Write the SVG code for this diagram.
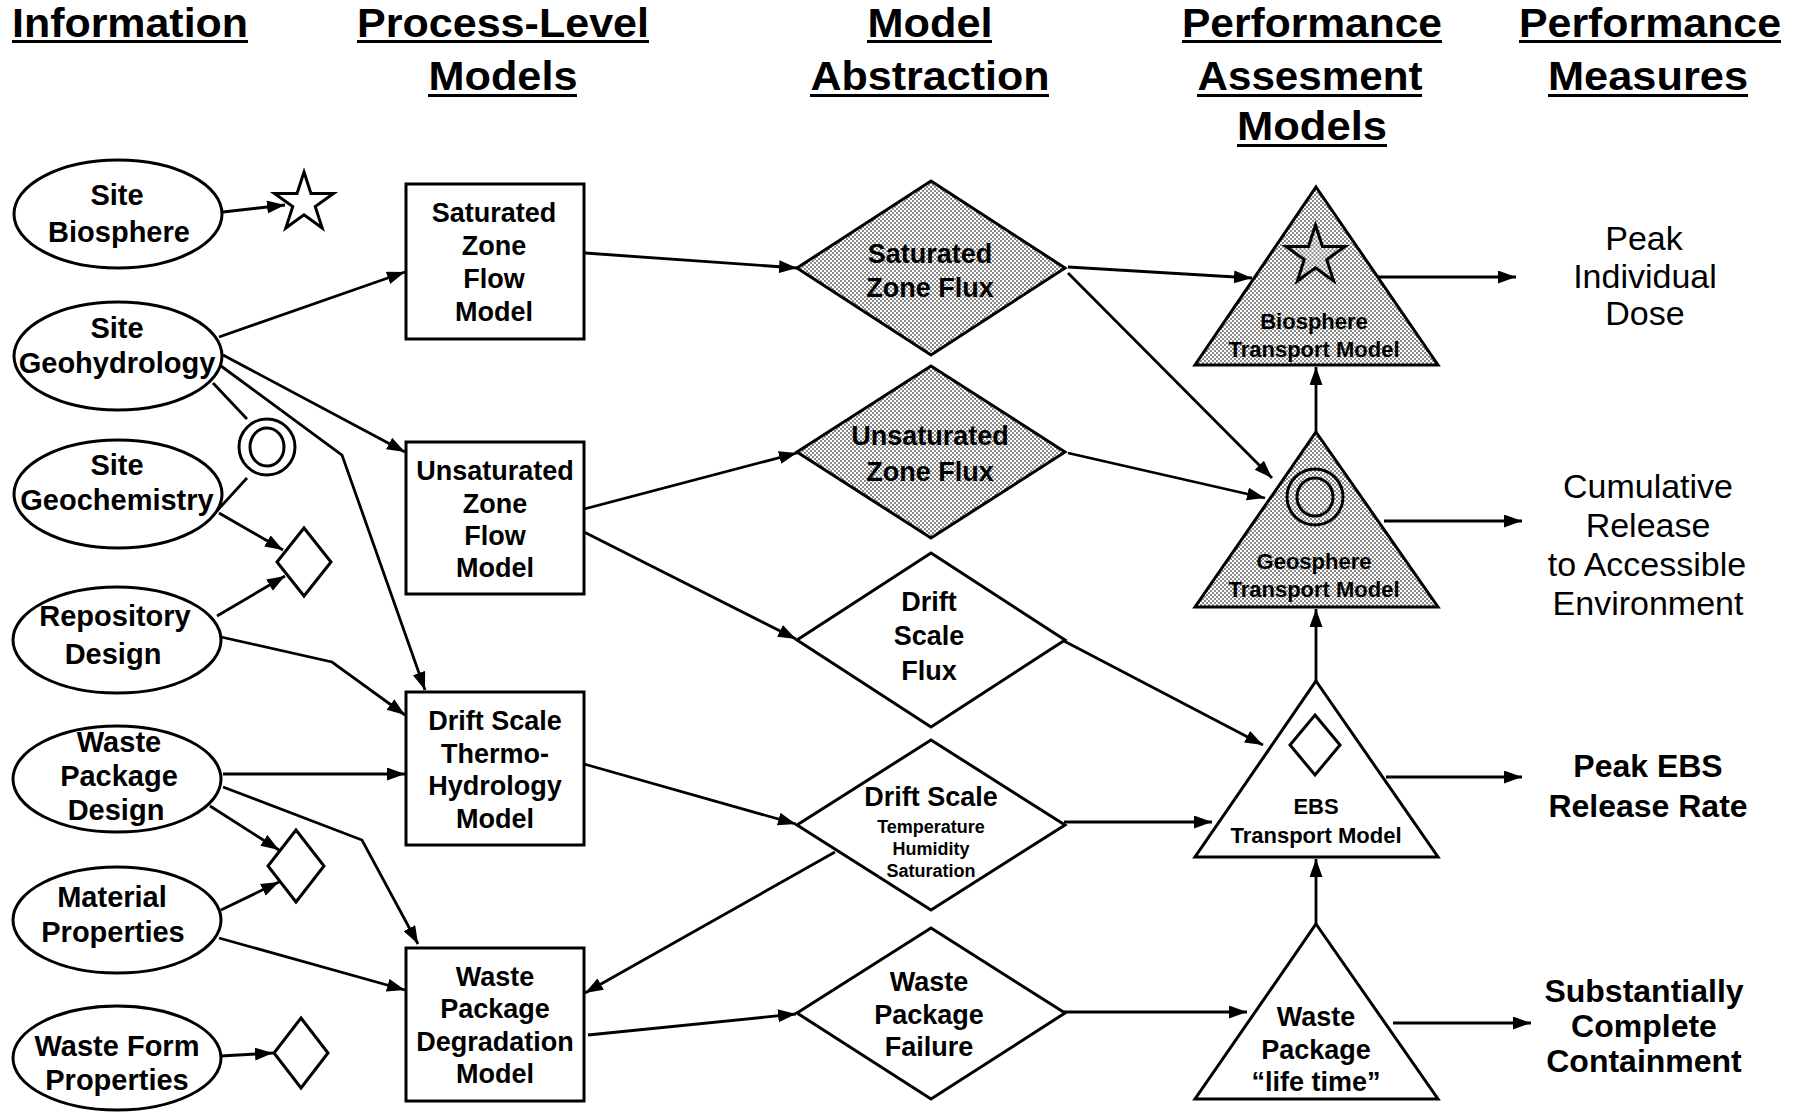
<svg xmlns="http://www.w3.org/2000/svg" width="1801" height="1115" viewBox="0 0 1801 1115">
<defs>
<style>
text{font-family:"Liberation Sans",Arial,Helvetica,sans-serif;fill:#000;text-anchor:middle}
.h{font-size:40px;font-weight:bold}
.e{font-size:29px;font-weight:bold}
.b{font-size:27px;font-weight:bold}
.s{font-size:18px;font-weight:bold}
.t{font-size:22px;font-weight:bold}
.m{font-size:34px}
.mb{font-size:32px;font-weight:bold}
.shape{fill:#fff;stroke:#000;stroke-width:3;stroke-linejoin:miter}
.gray{fill:url(#dots);stroke:#000;stroke-width:3}
.ul{fill:#000}
#connectors path,#connectors line,#connectors polyline{fill:none;stroke:#000;stroke-width:2.8}
.a{marker-end:url(#arr)}
</style>
<pattern id="dots" width="4" height="4" patternUnits="userSpaceOnUse">
<rect width="4" height="4" fill="#fff"/>
<rect width="2" height="2" fill="#8a8a8a"/>
<rect x="2" y="2" width="2" height="2" fill="#8a8a8a"/>
</pattern>
<marker id="arr" markerUnits="userSpaceOnUse" markerWidth="20" markerHeight="14" refX="18" refY="6.5" orient="auto">
<path d="M0,0 L18,6.5 L0,13 z" fill="#000"/>
</marker>
<polygon id="star" points="0,-31 6.96,-9.58 29.48,-9.58 11.26,3.66 18.22,25.08 0,11.84 -18.22,25.08 -11.26,3.66 -29.48,-9.58 -6.96,-9.58"/>
</defs>
<rect width="1801" height="1115" fill="#fff"/>

<g id="headers">
<text class="h" x="130" y="37" textLength="236" lengthAdjust="spacingAndGlyphs">Information</text>
<rect class="ul" x="12" y="40" width="236" height="3"/>
<text class="h" x="503" y="37" textLength="292" lengthAdjust="spacingAndGlyphs">Process-Level</text>
<rect class="ul" x="357" y="40" width="292" height="3"/>
<text class="h" x="503" y="90" textLength="149" lengthAdjust="spacingAndGlyphs">Models</text>
<rect class="ul" x="428" y="94" width="149" height="3"/>
<text class="h" x="930" y="37" textLength="125" lengthAdjust="spacingAndGlyphs">Model</text>
<rect class="ul" x="867" y="40" width="125" height="3"/>
<text class="h" x="930" y="90" textLength="239" lengthAdjust="spacingAndGlyphs">Abstraction</text>
<rect class="ul" x="810" y="94" width="239" height="3"/>
<text class="h" x="1312" y="37" textLength="260" lengthAdjust="spacingAndGlyphs">Performance</text>
<rect class="ul" x="1182" y="40" width="260" height="3"/>
<text class="h" x="1310" y="90" textLength="225" lengthAdjust="spacingAndGlyphs">Assesment</text>
<rect class="ul" x="1197" y="94" width="225" height="3"/>
<text class="h" x="1312" y="140" textLength="150" lengthAdjust="spacingAndGlyphs">Models</text>
<rect class="ul" x="1237" y="144" width="150" height="3"/>
<text class="h" x="1650" y="37" textLength="262" lengthAdjust="spacingAndGlyphs">Performance</text>
<rect class="ul" x="1519" y="40" width="262" height="3"/>
<text class="h" x="1648" y="90" textLength="200" lengthAdjust="spacingAndGlyphs">Measures</text>
<rect class="ul" x="1548" y="94" width="200" height="3"/>
</g>

<g id="connectors">
<line class="a" x1="223" y1="212" x2="285" y2="205"/>
<line class="a" x1="219" y1="337" x2="405" y2="272"/>
<line class="a" x1="223" y1="355" x2="405" y2="452"/>
<polyline class="a" points="221,366 342,455 425,690"/>
<line x1="213" y1="383" x2="247" y2="419"/>
<line x1="247" y1="478" x2="215" y2="513"/>
<line class="a" x1="219" y1="513" x2="283" y2="550"/>
<line class="a" x1="217" y1="616" x2="285" y2="576"/>
<polyline class="a" points="221,637 332,662 405,715"/>
<line class="a" x1="223" y1="774" x2="405" y2="774"/>
<line class="a" x1="210" y1="806" x2="279" y2="850"/>
<polyline class="a" points="223,787 362,840 418,944"/>
<line class="a" x1="221" y1="910" x2="279" y2="882"/>
<line class="a" x1="219" y1="938" x2="405" y2="990"/>
<line class="a" x1="221" y1="1056" x2="273" y2="1053"/>
<line class="a" x1="585" y1="253" x2="797" y2="268"/>
<line class="a" x1="584" y1="509" x2="797" y2="453"/>
<line class="a" x1="584" y1="532" x2="796" y2="639"/>
<line class="a" x1="584" y1="764" x2="796" y2="824"/>
<line class="a" x1="835" y1="852" x2="585" y2="993"/>
<line class="a" x1="588" y1="1035" x2="796" y2="1014"/>
<line class="a" x1="1068" y1="267" x2="1252" y2="278"/>
<line class="a" x1="1068" y1="273" x2="1272" y2="478"/>
<line class="a" x1="1068" y1="453" x2="1265" y2="498"/>
<line class="a" x1="1064" y1="641" x2="1263" y2="745"/>
<line class="a" x1="1064" y1="822" x2="1212" y2="822"/>
<line class="a" x1="1063" y1="1012" x2="1247" y2="1012"/>
<line class="a" x1="1316" y1="432" x2="1316" y2="367"/>
<line class="a" x1="1316" y1="681" x2="1316" y2="609"/>
<line class="a" x1="1316" y1="924" x2="1316" y2="859"/>
<line class="a" x1="1376" y1="277" x2="1516" y2="277"/>
<line class="a" x1="1384" y1="521" x2="1522" y2="521"/>
<line class="a" x1="1386" y1="777" x2="1522" y2="777"/>
<line class="a" x1="1393" y1="1023" x2="1531" y2="1023"/>
</g>

<g id="site-biosphere">
<ellipse class="shape" cx="118" cy="214" rx="104" ry="54"/>
<text class="e" x="117" y="205">Site</text>
<text class="e" x="119" y="242">Biosphere</text>
</g>
<g id="site-geohydrology">
<ellipse class="shape" cx="118" cy="356" rx="104" ry="54"/>
<text class="e" x="117" y="338">Site</text>
<text class="e" x="117" y="373">Geohydrology</text>
</g>
<g id="site-geochemistry">
<ellipse class="shape" cx="118" cy="494" rx="104" ry="54"/>
<text class="e" x="117" y="475">Site</text>
<text class="e" x="117" y="510">Geochemistry</text>
</g>
<g id="repository-design">
<ellipse class="shape" cx="117" cy="640" rx="104" ry="53"/>
<text class="e" x="115" y="626">Repository</text>
<text class="e" x="113" y="664">Design</text>
</g>
<g id="waste-package-design">
<ellipse class="shape" cx="117" cy="779" rx="104" ry="53"/>
<text class="e" x="119" y="752">Waste</text>
<text class="e" x="119" y="786">Package</text>
<text class="e" x="116" y="820">Design</text>
</g>
<g id="material-properties">
<ellipse class="shape" cx="117" cy="920" rx="104" ry="53"/>
<text class="e" x="112" y="907">Material</text>
<text class="e" x="113" y="942">Properties</text>
</g>
<g id="waste-form-properties">
<ellipse class="shape" cx="117" cy="1058" rx="104" ry="52"/>
<text class="e" x="117" y="1056">Waste Form</text>
<text class="e" x="117" y="1090">Properties</text>
</g>

<g id="sym-star">
<use href="#star" class="shape" transform="translate(304,203)"/>
</g>
<g id="sym-circle">
<ellipse class="shape" cx="267" cy="447" rx="28" ry="28"/>
<ellipse class="shape" cx="267" cy="447" rx="17" ry="19"/>
</g>
<g id="sym-diamond-1">
<polygon class="shape" points="304,528 331,562 304,596 277,562"/>
</g>
<g id="sym-diamond-2">
<polygon class="shape" points="296,830 324,866 296,902 268,866"/>
</g>
<g id="sym-diamond-3">
<polygon class="shape" points="301,1018 328,1053 301,1088 274,1053"/>
</g>

<g id="saturated-zone-flow-model">
<rect class="shape" x="406" y="184" width="178" height="155"/>
<text class="b" x="494" y="222">Saturated</text>
<text class="b" x="494" y="255">Zone</text>
<text class="b" x="494" y="288">Flow</text>
<text class="b" x="494" y="321">Model</text>
</g>
<g id="unsaturated-zone-flow-model">
<rect class="shape" x="406" y="442" width="178" height="152"/>
<text class="b" x="495" y="480">Unsaturated</text>
<text class="b" x="495" y="513">Zone</text>
<text class="b" x="495" y="545">Flow</text>
<text class="b" x="495" y="577">Model</text>
</g>
<g id="drift-scale-thermo-hydrology-model">
<rect class="shape" x="406" y="692" width="178" height="153"/>
<text class="b" x="495" y="730">Drift Scale</text>
<text class="b" x="495" y="763">Thermo-</text>
<text class="b" x="495" y="795">Hydrology</text>
<text class="b" x="495" y="828">Model</text>
</g>
<g id="waste-package-degradation-model">
<rect class="shape" x="406" y="948" width="178" height="153"/>
<text class="b" x="495" y="986">Waste</text>
<text class="b" x="495" y="1018">Package</text>
<text class="b" x="495" y="1051">Degradation</text>
<text class="b" x="495" y="1083">Model</text>
</g>

<g id="saturated-zone-flux">
<polygon class="gray" points="931,181 1065,268 931,355 797,268"/>
<text class="b" x="930" y="263">Saturated</text>
<text class="b" x="930" y="297">Zone Flux</text>
</g>
<g id="unsaturated-zone-flux">
<polygon class="gray" points="931,366 1065,452 931,538 797,452"/>
<text class="b" x="930" y="445">Unsaturated</text>
<text class="b" x="930" y="481">Zone Flux</text>
</g>
<g id="drift-scale-flux">
<polygon class="shape" points="931,553 1065,640 931,727 797,640"/>
<text class="b" x="929" y="611">Drift</text>
<text class="b" x="929" y="645">Scale</text>
<text class="b" x="929" y="680">Flux</text>
</g>
<g id="drift-scale-ths">
<polygon class="shape" points="931,740 1065,825 931,910 797,825"/>
<text class="b" x="931" y="806">Drift Scale</text>
<text class="s" x="931" y="833">Temperature</text>
<text class="s" x="931" y="855">Humidity</text>
<text class="s" x="931" y="877">Saturation</text>
</g>
<g id="waste-package-failure">
<polygon class="shape" points="931,928 1065,1013 931,1099 797,1013"/>
<text class="b" x="929" y="991">Waste</text>
<text class="b" x="929" y="1024">Package</text>
<text class="b" x="929" y="1056">Failure</text>
</g>

<g id="biosphere-transport-model">
<polygon class="gray" points="1316,187 1438,365 1195,365"/>
<use href="#star" class="gray" transform="translate(1315.5,256)"/>
<text class="t" x="1314" y="329">Biosphere</text>
<text class="t" x="1314" y="357">Transport Model</text>
</g>
<g id="geosphere-transport-model">
<polygon class="gray" points="1316,432 1438,607 1195,607"/>
<ellipse class="gray" cx="1315" cy="497" rx="28" ry="28"/>
<ellipse class="gray" cx="1315" cy="497" rx="18" ry="19"/>
<text class="t" x="1314" y="569">Geosphere</text>
<text class="t" x="1314" y="597">Transport Model</text>
</g>
<g id="ebs-transport-model">
<polygon class="shape" points="1316,681 1438,857 1195,857"/>
<polygon class="shape" points="1315,715 1340,745 1315,775 1290,745"/>
<text class="t" x="1316" y="814">EBS</text>
<text class="t" x="1316" y="843">Transport Model</text>
</g>
<g id="waste-package-life-time">
<polygon class="shape" points="1316,924 1438,1099 1195,1099"/>
<text class="b" x="1316" y="1026">Waste</text>
<text class="b" x="1316" y="1059">Package</text>
<text class="b" x="1316" y="1091">“life time”</text>
</g>

<g id="peak-individual-dose">
<text class="m" x="1644" y="250">Peak</text>
<text class="m" x="1645" y="288">Individual</text>
<text class="m" x="1645" y="325">Dose</text>
</g>
<g id="cumulative-release">
<text class="m" x="1648" y="498">Cumulative</text>
<text class="m" x="1648" y="537">Release</text>
<text class="m" x="1647" y="576">to Accessible</text>
<text class="m" x="1648" y="615">Environment</text>
</g>
<g id="peak-ebs-release-rate">
<text class="mb" x="1648" y="777">Peak EBS</text>
<text class="mb" x="1648" y="817">Release Rate</text>
</g>
<g id="substantially-complete-containment">
<text class="mb" x="1644" y="1002">Substantially</text>
<text class="mb" x="1644" y="1037">Complete</text>
<text class="mb" x="1644" y="1072">Containment</text>
</g>
</svg>
